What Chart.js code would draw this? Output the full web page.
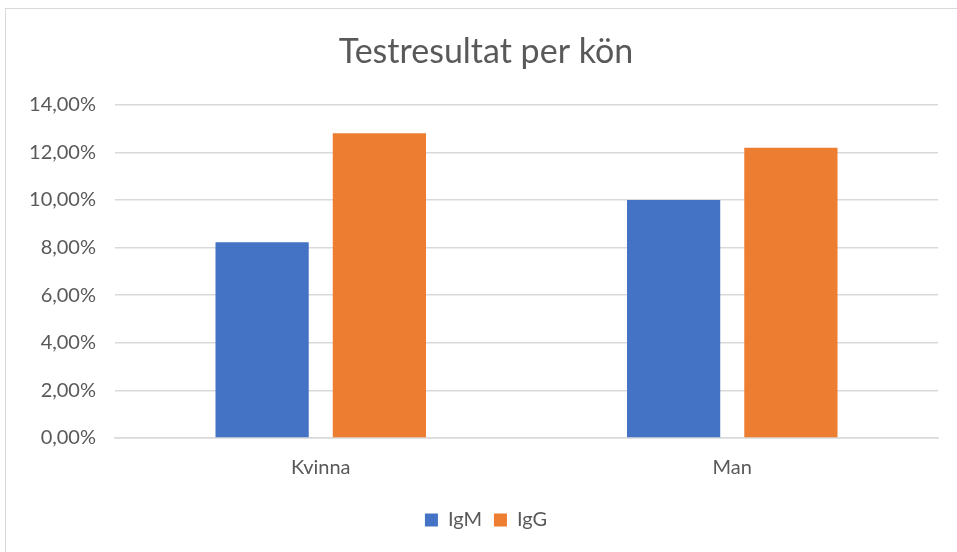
<!DOCTYPE html>
<html lang="sv">
<head>
    <meta charset="UTF-8" />
    <title>Testresultat per kön</title>
    <script src="https://cdn.jsdelivr.net/npm/chart.js"></script>
    <style>
        body {
            margin: 0;
            padding: 0;
            background: #fff;
            font-family: "Lato", sans-serif;
            overflow: hidden;
        }

        .frame {
            position: absolute;
            left: 5px;
            top: 8px;
            width: 980px;
            height: 580px;
            border: 1px solid #d9d9d9;
        }

        .chart-box {
            position: absolute;
            left: 0;
            top: 0;
            width: 957px;
            height: 552px;
        }
    </style>
</head>
<body>
    <div class="frame"></div>
    <div class="chart-box">
        <canvas id="genderChart"></canvas>
    </div>

    <script>
        // Data (percent)
        const categories = ['Kvinna', 'Man'];
        const igmValues = [8.22, 10.0];
        const iggValues = [12.8, 12.2];
        const seriesNames = ['IgM', 'IgG'];

        const textColor = '#595959';

        function formatPercent(v) {
            return v.toFixed(2).replace('.', ',') + '%';
        }

        // y labels stick out into the left padding; widen the label clip area
        const unclipYLabels = {
            id: 'unclipYLabels',
            afterLayout(chart) {
                chart.scales.y.left = 0;
            }
        };

        const ctx = document.getElementById('genderChart').getContext('2d');
        new Chart(ctx, {
            type: 'bar',
            data: {
                labels: categories,
                datasets: [
                    {
                        label: seriesNames[0],
                        data: igmValues,
                        backgroundColor: '#4472C4',
                        categoryPercentage: 0.57,
                        barPercentage: 0.795
                    },
                    {
                        label: seriesNames[1],
                        data: iggValues,
                        backgroundColor: '#ED7D31',
                        categoryPercentage: 0.57,
                        barPercentage: 0.795
                    }
                ]
            },
            options: {
                responsive: true,
                maintainAspectRatio: false,
                animation: false,
                layout: {
                    // left padding keeps title/legend centred like the original
                    padding: { left: 34, right: 19, top: 0, bottom: 12 }
                },
                scales: {
                    x: {
                        grid: { display: false, drawTicks: false },
                        border: { color: '#d9d9d9', width: 1.5 },
                        ticks: {
                            color: textColor,
                            font: { family: 'Lato', size: 20 },
                            padding: 18
                        }
                    },
                    y: {
                        min: 0,
                        max: 14,
                        ticks: {
                            stepSize: 2,
                            color: textColor,
                            font: { family: 'Lato', size: 20 },
                            padding: 19,
                            callback: (v) => formatPercent(v)
                        },
                        grid: { color: '#d9d9d9', lineWidth: 1.5, drawTicks: false },
                        border: { display: false },
                        afterFit: (scale) => { scale.width = 81; }
                    }
                },
                plugins: {
                    title: {
                        display: true,
                        text: 'Testresultat per kön',
                        color: textColor,
                        font: { family: 'Lato', size: 34, weight: 'normal' },
                        padding: { top: 32, bottom: 32 }
                    },
                    legend: {
                        position: 'bottom',
                        labels: {
                            color: textColor,
                            font: { family: 'Lato', size: 20 },
                            boxWidth: 13,
                            boxHeight: 13,
                            padding: 12
                        }
                    },
                    tooltip: { enabled: false }
                }
            },
            plugins: [unclipYLabels]
        });
    </script>
</body>
</html>
